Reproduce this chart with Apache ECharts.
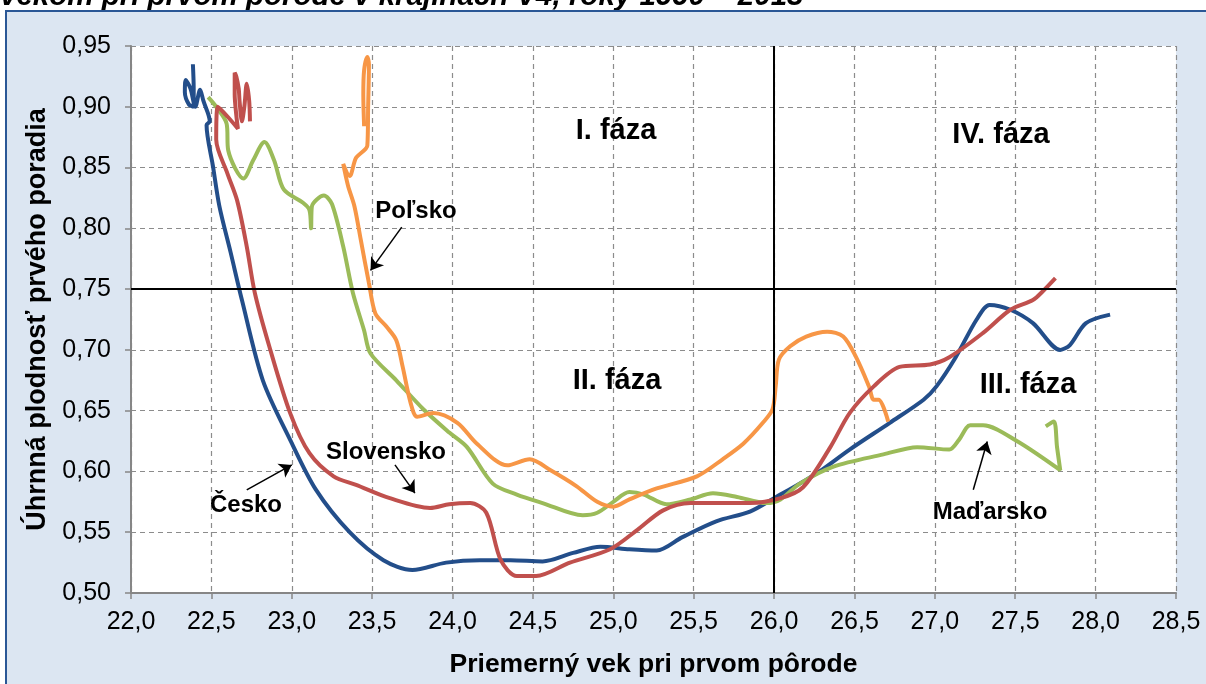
<!DOCTYPE html>
<html>
<head>
<meta charset="utf-8">
<script src="https://cdn.jsdelivr.net/npm/echarts@6/dist/echarts.min.js"></script>
<style>
  html, body { margin: 0; padding: 0; background: #fff; }
  #chart { width: 1206px; height: 684px; }
</style>
</head>
<body>
<div id="chart"></div>
<script>
// [vek, úhrnná plodnosť] podľa rokov 1990 - 2013, odčítané z grafu
const cesko = [
  [22.385, 0.935], [22.39, 0.915], [22.39, 0.9], [22.36, 0.902], [22.335, 0.912], [22.34, 0.922],
  [22.37, 0.915], [22.4, 0.9], [22.43, 0.914], [22.45, 0.905], [22.49, 0.888], [22.47, 0.885],
  [22.51, 0.851], [22.55, 0.818], [22.62, 0.78], [22.69, 0.741], [22.82, 0.675], [22.99, 0.626],
  [23.15, 0.585], [23.36, 0.55], [23.57, 0.527], [23.75, 0.519], [23.96, 0.525], [24.17, 0.527],
  [24.36, 0.527], [24.56, 0.526], [24.75, 0.533], [24.92, 0.538], [25.1, 0.536], [25.27, 0.535],
  [25.43, 0.546], [25.64, 0.559], [25.85, 0.567], [26.0, 0.578], [26.26, 0.598], [26.47, 0.618],
  [26.72, 0.64], [26.93, 0.659], [27.01, 0.67], [27.13, 0.694], [27.26, 0.725], [27.34, 0.737],
  [27.47, 0.733], [27.61, 0.722], [27.78, 0.7], [27.84, 0.704], [27.94, 0.722], [28.09, 0.729]
];
const madarsko = [
  [22.48, 0.908], [22.53, 0.9], [22.595, 0.886], [22.605, 0.864], [22.7, 0.841], [22.76, 0.856],
  [22.83, 0.871], [22.89, 0.856], [22.95, 0.832], [23.07, 0.821], [23.11, 0.815], [23.12, 0.8],
  [23.125, 0.818], [23.2, 0.827], [23.25, 0.82], [23.32, 0.785], [23.38, 0.747], [23.45, 0.716],
  [23.49, 0.697], [23.65, 0.675], [23.82, 0.651], [23.98, 0.632], [24.09, 0.62], [24.25, 0.59],
  [24.4, 0.581], [24.56, 0.574], [24.81, 0.564], [24.9, 0.566], [25.0, 0.575], [25.1, 0.583],
  [25.19, 0.581], [25.33, 0.573], [25.48, 0.577], [25.62, 0.582], [25.77, 0.579], [25.95, 0.574],
  [26.04, 0.577], [26.16, 0.59], [26.37, 0.604], [26.68, 0.614], [26.89, 0.62], [27.09, 0.618],
  [27.15, 0.626], [27.22, 0.638], [27.3, 0.638], [27.51, 0.625], [27.78, 0.601], [27.76, 0.62],
  [27.74, 0.641], [27.69, 0.637]
];
const polsko = [
  [23.45, 0.884], [23.445, 0.91], [23.45, 0.93], [23.47, 0.941], [23.48, 0.935], [23.475, 0.9],
  [23.47, 0.868], [23.4, 0.858], [23.36, 0.843], [23.32, 0.853], [23.35, 0.835], [23.39, 0.818],
  [23.43, 0.79], [23.48, 0.755], [23.52, 0.73], [23.59, 0.719], [23.65, 0.708], [23.69, 0.686],
  [23.74, 0.656], [23.78, 0.645], [23.88, 0.648], [24.03, 0.64], [24.15, 0.623], [24.34, 0.605],
  [24.48, 0.61], [24.61, 0.601], [24.77, 0.588], [24.9, 0.575], [25.0, 0.571], [25.1, 0.577],
  [25.27, 0.586], [25.52, 0.596], [25.68, 0.61], [25.81, 0.623], [25.93, 0.64], [25.99, 0.651],
  [26.01, 0.67], [26.03, 0.692], [26.1, 0.703], [26.2, 0.711], [26.33, 0.715], [26.43, 0.711],
  [26.51, 0.694], [26.59, 0.67], [26.62, 0.659], [26.65, 0.659], [26.71, 0.641]
];
const slovensko = [
  [22.74, 0.888], [22.735, 0.905], [22.72, 0.919], [22.705, 0.9], [22.69, 0.888], [22.675, 0.905],
  [22.67, 0.915], [22.655, 0.925], [22.645, 0.928], [22.645, 0.91], [22.655, 0.893], [22.665, 0.882],
  [22.6, 0.892], [22.54, 0.9], [22.53, 0.873], [22.6, 0.845], [22.66, 0.823], [22.72, 0.785],
  [22.77, 0.747], [22.86, 0.703], [22.99, 0.648], [23.11, 0.615], [23.26, 0.596], [23.4, 0.589],
  [23.61, 0.578], [23.86, 0.57], [23.98, 0.573], [24.11, 0.574], [24.21, 0.566], [24.3, 0.527],
  [24.4, 0.514], [24.52, 0.514], [24.73, 0.525], [24.98, 0.536], [25.15, 0.552], [25.31, 0.568],
  [25.48, 0.574], [25.85, 0.574], [26.04, 0.578], [26.18, 0.587], [26.35, 0.62], [26.47, 0.648],
  [26.62, 0.67], [26.78, 0.686], [26.97, 0.688], [27.09, 0.694], [27.3, 0.714], [27.47, 0.733],
  [27.61, 0.741], [27.67, 0.748], [27.75, 0.759]
];

// hranice fáz
const fazaVek = 26.0;
const fazaPlodnost = 0.75;

// šípky k popisom krajín: [od, do]
const sipky = [
  [[23.684, 0.801], [23.49, 0.7654]],
  [[23.642, 0.6054], [23.766, 0.5822]],
  [[22.72, 0.5849], [23.0, 0.6054]],
  [[27.239, 0.5849], [27.326, 0.6246]]
];

const font = '"Liberation Sans", Arial, sans-serif';
const chart = echarts.init(document.getElementById('chart'));

function krajina(name, data, color) {
  return {
    name, type: 'line', data,
    smooth: 0.3,
    showSymbol: false,
    symbol: 'none',
    lineStyle: { color, width: 4 },
    itemStyle: { color },
    z: 3
  };
}

function popis(text, x, y, size) {
  return {
    type: 'text', x, y, z: 50,
    style: {
      text, font: 'bold ' + size + 'px ' + font, fill: '#000',
      textAlign: 'center', textVerticalAlign: 'middle'
    }
  };
}

chart.setOption({
  animation: false,
  backgroundColor: '#fff',
  graphic: [
    {
      type: 'text', x: 0, y: -2.8, z: -200,
      style: {
        text: 'vekom pri prvom pôrode v krajinách V4, roky 1990 – 2013',
        font: 'italic bold 29.5px ' + font, fill: '#000',
        textAlign: 'left', textVerticalAlign: 'middle'
      }
    },
    {
      type: 'rect', z: -100, silent: true,
      shape: { x: 6, y: 11, width: 1230, height: 700 },
      style: { fill: '#dce6f2', stroke: '#2a5796', lineWidth: 2 }
    },
    popis('I. fáza', 616, 131, 29),
    popis('IV. fáza', 1001, 135, 29),
    popis('II. fáza', 617, 381, 29),
    popis('III. fáza', 1028, 385, 29),
    popis('Poľsko', 416, 211, 24),
    popis('Slovensko', 386, 452, 24),
    popis('Česko', 246, 505, 24),
    popis('Maďarsko', 990, 512, 24)
  ],
  grid: {
    left: 131, right: 30, top: 46, bottom: 91,
    show: true, backgroundColor: '#fff', borderWidth: 0
  },
  xAxis: {
    type: 'value', min: 22, max: 28.5, interval: 0.5,
    name: 'Priemerný vek pri prvom pôrode',
    nameLocation: 'middle', nameGap: 58,
    nameTextStyle: { fontFamily: font, fontWeight: 'bold', fontSize: 26.5, color: '#000' },
    axisLine: { lineStyle: { color: '#868686', width: 2 } },
    axisTick: { show: true, length: 6, lineStyle: { color: '#868686', width: 1.5 } },
    axisLabel: {
      fontFamily: font, fontSize: 25, color: '#000', margin: 17,
      formatter: v => v.toFixed(1).replace('.', ',')
    },
    splitLine: { show: true, lineStyle: { color: '#8c8c8c', type: [5, 4], width: 1.2 } }
  },
  yAxis: {
    type: 'value', min: 0.5, max: 0.95, interval: 0.05,
    name: 'Úhrnná plodnosť prvého poradia',
    nameLocation: 'middle', nameGap: 77,
    nameTextStyle: { fontFamily: font, fontWeight: 'bold', fontSize: 27, color: '#000' },
    axisLine: { show: true, lineStyle: { color: '#868686', width: 2 } },
    axisTick: { show: true, length: 6, lineStyle: { color: '#868686', width: 1.5 } },
    axisLabel: {
      fontFamily: font, fontSize: 25, color: '#000', margin: 20,
      formatter: v => v.toFixed(2).replace('.', ',')
    },
    splitLine: { show: true, lineStyle: { color: '#8c8c8c', type: [5, 4], width: 1.2 } }
  },
  series: [
    {
      name: 'fázy', type: 'line', data: [], z: 2,
      markLine: {
        silent: true, symbol: 'none', label: { show: false },
        lineStyle: { color: '#000', width: 2, type: 'solid' },
        data: [{ xAxis: fazaVek }, { yAxis: fazaPlodnost }]
      }
    },
    krajina('Česko', cesko, '#234e8a'),
    krajina('Maďarsko', madarsko, '#9bbb59'),
    krajina('Poľsko', polsko, '#f79646'),
    krajina('Slovensko', slovensko, '#c0504d'),
    {
      name: 'šípky', type: 'line', data: [], z: 10,
      markLine: {
        silent: true, symbol: ['none', 'arrow'], symbolSize: 12,
        label: { show: false },
        lineStyle: { color: '#000', width: 1.5, type: 'solid' },
        data: sipky.map(s => [{ coord: s[0] }, { coord: s[1] }])
      }
    }
  ]
});
</script>
</body>
</html>
